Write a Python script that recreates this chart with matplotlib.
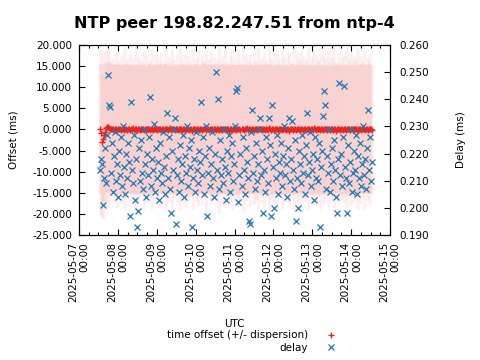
import numpy as np
import pandas as pd
import matplotlib
matplotlib.use('Agg')
import matplotlib.pyplot as plt
import matplotlib.dates as mdates
from matplotlib.ticker import FormatStrFormatter

plt.rcParams['font.family'] = ['DejaVu Sans']
plt.rcParams['font.size'] = 7.5

# sample window (regular poll interval)
t_first = '2025-05-07 13:00'
t_last = '2025-05-14 12:50'

# time offset, ms
offset = [
    0.1, -0.8, -2.9, -2.2, -1.4, -0.6, 0.3, 0.6, 0.5, 0.3, 0.2, 0.1, 0.0, 0.2, -0.1, 0.1, 0.0, -0.2, 0.1, 0.2,
    0.0, -0.1, 0.1, 0.2, -0.2, 0.0, 0.1, -0.1, 0.2, 0.0, -0.2, 0.1, 0.0, 0.3, -0.1, 0.0, 0.1, -0.2, 0.2, 0.0,
    -0.1, 0.1, 0.0, 0.2, -0.1, 0.0, -0.3, 0.1, 0.2, 0.0, -0.1, 0.1, 0.0, -0.2, 0.2, 0.1, 0.0, -0.1, 0.0, 0.2,
    0.1, -0.2, 0.0, 0.1, -0.1, 0.2, 0.0, 0.1, -0.2, 0.0, 0.3, -0.1, 0.0, 0.1, 0.0, -0.2, 0.1, 0.2, -0.1, 0.0,
    0.0, 0.1, -0.1, 0.2, 0.0, -0.2, 0.1, 0.0, 0.2, -0.1, 0.0, 0.1, -0.3, 0.0, 0.2, 0.1, -0.1, 0.0, 0.1, -0.2,
    0.2, 0.0, -0.1, 0.1, 0.0, 0.3, -0.2, 0.0, 0.1, -0.1, 0.0, 0.2, 0.1, -0.2, 0.0, 0.1, -0.1, 0.2, 0.0, -0.1,
    0.1, 0.0, -0.2, 0.2, 0.0, 0.1, -0.1, 0.0, 0.2, -0.3, 0.1, 0.0, -0.1, 0.2, 0.0, 0.1, -0.2, 0.0, 0.1, 0.0,
    -0.1, 0.2, 0.0, -0.2, 0.1, 0.0, 0.3, -0.1, 0.0, 0.1, -0.2, 0.2, 0.0, -0.1, 0.1, 0.0, -0.2, 0.1, 0.2, 0.0,
    0.1, -0.1, 0.0, 0.2, -0.2, 0.0, 0.1, -0.1, 0.3, 0.0, -0.1, 0.1, 0.0, -0.2, 0.2, 0.0, 0.1, -0.1, 0.0, 0.2,
    0.0, -0.2, 0.1, 0.0, 0.2, -0.1, 0.0, 0.1, -0.3, 0.1, 0.0, 0.2, -0.1, 0.0, 0.1, -0.2, 0.0, 0.2, 0.1, -0.1,
    0.0, 0.1, -0.1, 0.2, 0.0, -0.2, 0.1, 0.0, 0.2, -0.1, 0.1, 0.0, -0.2, 0.3, 0.0, -0.1, 0.1, 0.0, 0.2, -0.1,
    0.1, 0.0, -0.2, 0.1, 0.0, 0.2, -0.1, 0.0, 0.1, -0.2, 0.2, 0.0, -0.1, 0.1, 0.0, -0.3, 0.2, 0.1, 0.0, -0.1,
    0.0, 0.2, -0.1, 0.0, 0.1, -0.2, 0.0, 0.1, 0.2, -0.1, 0.0, 0.1, -0.2, 0.0, 0.2, 0.1, -0.1, 0.0, 0.1, 0.0,
    -0.1, 0.2, 0.0, 0.1, -0.2, 0.0, 0.1, -0.1, 0.2, 0.0, 0.1, -0.1,
]

# dispersion, ms
dispersion = [
    15.4, 19.6, 18.2, 15.3, 19.8, 16.4, 15.2, 17.9, 15.3, 18.8, 15.5, 16.2, 15.3, 15.2, 17.1, 15.4, 15.3, 18.4, 15.2, 16.0,
    15.3, 15.4, 17.6, 15.2, 15.3, 19.2, 15.4, 16.5, 15.3, 15.2, 18.0, 15.3, 15.4, 16.8, 15.2, 15.3, 19.5, 15.4, 15.3, 17.2,
    15.2, 16.1, 15.3, 15.4, 18.6, 15.3, 15.2, 17.4, 15.3, 15.5, 16.3, 15.2, 19.0, 15.3, 15.4, 15.2, 17.7, 15.3, 16.6, 15.2,
    15.4, 18.3, 15.3, 15.2, 16.0, 15.3, 19.7, 15.4, 15.2, 17.0, 15.3, 15.3, 18.9, 15.2, 16.4, 15.3, 15.4, 17.5, 15.2, 15.3,
    19.3, 15.3, 16.7, 15.2, 15.4, 18.1, 15.3, 15.2, 17.3, 15.3, 16.2, 15.4, 15.2, 19.1, 15.3, 15.3, 16.9, 15.2, 18.5, 15.3,
    15.4, 15.2, 17.8, 15.3, 16.1, 15.3, 19.4, 15.2, 15.4, 16.6, 15.3, 18.2, 15.2, 15.3, 17.1, 15.4, 15.2, 16.3, 15.3, 19.9,
    15.3, 15.2, 17.6, 15.4, 15.3, 18.7, 15.2, 16.0, 15.3, 15.4, 17.2, 15.3, 19.0, 15.2, 15.3, 16.8, 15.4, 15.2, 18.3, 15.3,
    16.4, 15.3, 15.2, 19.6, 15.4, 15.3, 17.4, 15.2, 16.2, 15.3, 18.0, 15.4, 15.2, 15.3, 17.9, 15.3, 16.5, 15.2, 19.2, 15.4,
    15.3, 17.0, 15.2, 15.3, 18.4, 15.4, 16.1, 15.3, 15.2, 19.5, 15.3, 16.7, 15.4, 15.2, 17.6, 15.3, 15.3, 18.8, 15.2, 16.3,
    15.4, 15.3, 19.1, 15.2, 16.9, 15.3, 15.4, 17.3, 15.2, 18.1, 15.3, 15.3, 16.0, 15.4, 19.8, 15.2, 15.3, 17.7, 15.3, 16.4,
    15.2, 18.6, 15.4, 15.3, 17.1, 15.2, 16.2, 15.3, 19.3, 15.4, 15.2, 16.8, 15.3, 18.2, 15.3, 15.2, 17.5, 15.4, 16.1, 15.3,
    19.0, 15.3, 15.2, 17.8, 15.4, 16.6, 15.3, 15.2, 18.5, 15.3, 15.4, 17.0, 15.2, 19.7, 15.3, 16.3, 15.3, 15.2, 18.0, 15.4,
    15.3, 16.9, 15.2, 17.4, 15.3, 15.4, 19.4, 15.2, 16.0, 15.3, 18.3, 15.3, 15.2, 17.2, 15.4, 16.5, 15.3, 19.1, 15.2, 15.3,
    17.6, 15.4, 16.2, 15.3, 18.7, 15.2, 15.3, 16.8, 15.4, 17.9, 15.3, 15.2,
]

# round trip delay, microseconds
delay_us = [
    214, 218, 216, 201, 211, 222, 209, 227, 249, 238, 237, 213, 224, 206, 219, 228, 210, 216, 204, 221,
    212, 226, 208, 230, 215, 205, 220, 211, 224, 217, 197, 239, 214, 209, 227, 203, 218, 193, 199, 222,
    210, 225, 213, 207, 229, 216, 204, 220, 212, 226, 241, 208, 218, 214, 231, 206, 222, 211, 217, 203,
    224, 213, 209, 228, 215, 205, 219, 235, 211, 226, 207, 198, 221, 214, 229, 233, 194, 212, 218, 206,
    223, 210, 216, 227, 204, 219, 213, 230, 208, 222, 215, 225, 193, 211, 218, 206, 228, 214, 209, 221,
    217, 239, 212, 226, 205, 219, 230, 197, 213, 222, 208, 216, 228, 211, 204, 220, 250, 214, 240, 207,
    225, 212, 218, 209, 229, 215, 203, 221, 213, 227, 206, 219, 224, 210, 216, 230, 243, 244, 202, 212,
    220, 208, 226, 214, 205, 222, 217, 211, 195, 194, 228, 236, 213, 219, 207, 224, 210, 216, 229, 233,
    212, 221, 198, 214, 206, 226, 218, 209, 233, 223, 197, 238, 215, 200, 220, 211, 227, 205, 217, 213,
    224, 208, 219, 230, 212, 216, 204, 222, 233, 210, 218, 232, 214, 207, 225, 195, 211, 200, 221, 216,
    209, 227, 213, 219, 205, 223, 235, 212, 217, 228, 208, 214, 220, 203, 226, 211, 218, 210, 224, 193,
    215, 221, 234, 243, 238, 207, 219, 213, 229, 206, 216, 222, 210, 225, 214, 204, 198, 218, 246, 212,
    220, 208, 226, 245, 215, 211, 198, 223, 209, 217, 229, 206, 213, 221, 214, 227, 205, 219, 211, 224,
    208, 216, 230, 212, 218, 207, 222, 236, 214, 226, 210, 217,
]

red = '#e6261f'
blue = '#1f77b4'

t = pd.date_range(t_first, t_last, periods=len(offset))
off = np.array(offset)
disp = np.array(dispersion)
delay = np.array(delay_us) / 1000.0

fig = plt.figure(figsize=(4.8, 3.6), dpi=100)
ax = fig.add_axes([79 / 480, 1 - 235 / 360, 311 / 480, 190 / 360])

# dispersion bars, then offset
ax.vlines(t, off - disp, off + disp, color=red, alpha=0.07, lw=2.2, snap=False)
l1, = ax.plot(t, off, '+', color=red, ms=5, mew=1, label='time offset (+/- dispersion)')

ax2 = ax.twinx()
l2, = ax2.plot(t, delay, 'x', color=blue, ms=4.5, mew=0.9, label='delay')

ax.set_xlim(pd.Timestamp('2025-05-07'), pd.Timestamp('2025-05-15'))
ax.set_ylim(-25, 20)
ax.set_yticks(np.arange(-25, 21, 5))
ax.yaxis.set_major_formatter(FormatStrFormatter('%.3f'))
ax2.set_ylim(0.19, 0.26)
ax2.set_yticks(np.arange(0.19, 0.2601, 0.01))
ax2.yaxis.set_major_formatter(FormatStrFormatter('%.3f'))

ax.xaxis.set_major_locator(mdates.DayLocator())
ax.xaxis.set_minor_locator(mdates.HourLocator(byhour=[6, 12, 18]))
ax.xaxis.set_major_formatter(mdates.DateFormatter('%Y-%m-%d\n%H:%M'))

ax.tick_params(which='both', direction='in', top=True, right=False)
ax.tick_params(which='major', length=4, width=0.8)
ax.tick_params(which='minor', length=2, width=0.8)
ax.tick_params(axis='x', pad=5, labelrotation=90)
ax.tick_params(axis='y', pad=5)
ax2.tick_params(direction='in', length=4, width=0.8, pad=7)

for a in (ax, ax2):
    for s in a.spines.values():
        s.set_linewidth(0.8)

ax.set_ylabel('Offset (ms)', labelpad=10)
ax2.set_ylabel('Delay (ms)', labelpad=19)
ax.set_xlabel('UTC', labelpad=12)
ax.set_title('NTP peer 198.82.247.51 from ntp-4', fontsize=11.5, fontweight='bold', pad=12)

fig.legend([l1, l2], [l1.get_label(), l2.get_label()], loc='center',
           bbox_to_anchor=(252 / 480, 1 - 341.5 / 360), markerfirst=False,
           frameon=False, handlelength=1.2, handletextpad=1.6, labelspacing=0.25,
           numpoints=1, borderpad=0)

# date lines end at the axis side
fig.canvas.draw()
plt.setp(ax.get_xticklabels(), ha='center', va='top', ma='right')

fig.savefig('out.png', dpi=100)
